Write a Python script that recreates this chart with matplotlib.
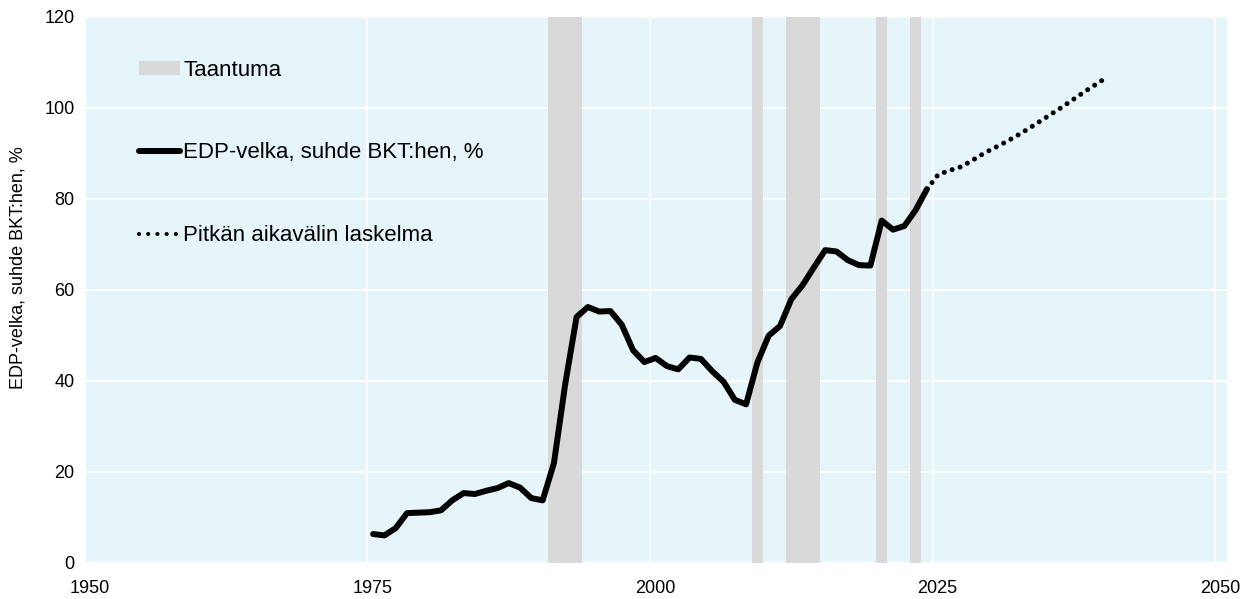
import matplotlib
matplotlib.use("Agg")
import matplotlib.pyplot as plt
import matplotlib.transforms as mtransforms
from matplotlib.lines import Line2D
from matplotlib.patches import Patch

plt.rcParams["font.family"] = ["Liberation Sans", "DejaVu Sans"]

# EDP debt, % of GDP (annual, plotted at mid-year)
years = list(range(1975, 2025))
debt = [6.3, 6.0, 7.6, 10.9, 11.0, 11.1, 11.5, 13.7, 15.3, 15.1,
        15.8, 16.4, 17.5, 16.5, 14.2, 13.7, 21.9, 39.3, 54.0, 56.2,
        55.2, 55.3, 52.3, 46.7, 44.1, 45.0, 43.2, 42.5, 45.1, 44.8,
        42.1, 39.8, 35.8, 34.8, 44.0, 49.9, 52.0, 57.9, 61.0, 64.9,
        68.7, 68.4, 66.5, 65.4, 65.3, 75.2, 73.2, 74.0, 77.5, 82.1]

# long-term projection
proj_years = list(range(2024, 2041))
proj_debt = [82.1, 85.3, 86.2, 87.0, 88.4, 89.9, 91.2, 92.5, 93.9,
             95.4, 97.0, 98.6, 100.2, 101.9, 103.6, 105.2, 106.8]

# recession years (shaded)
recession_years = [1991, 1992, 1993, 2009, 2012, 2013, 2014, 2020, 2023]

x_ticks = [1950, 1975, 2000, 2025, 2050]
y_ticks = [0, 20, 40, 60, 80, 100, 120]

BG = "#e6f5fa"
BAND = "#d9d9d9"

fig = plt.figure(figsize=(12.51, 5.99), dpi=100)
ax = fig.add_axes([0.0679, 0.0606, 0.9127, 0.9115])
ax.set_facecolor(BG)

for yr in recession_years:
    ax.axvspan(yr, yr + 1, color=BAND, lw=0, zorder=1)

ax.plot([y + 0.5 for y in proj_years], proj_debt, color="black", lw=3.6,
        linestyle=(0, (0.01, 1.65)), dash_capstyle="round", zorder=3)
ax.plot([y + 0.5 for y in years], debt, color="black", lw=4.3,
        solid_capstyle="round", solid_joinstyle="round", zorder=4)

ax.set_xlim(1950, 2051.03)
ax.set_ylim(0, 120)
ax.set_xticks(x_ticks)
ax.set_yticks(y_ticks)
ax.set_axisbelow(True)
ax.grid(True, color="white", lw=1.3)
for s in ax.spines.values():
    s.set_visible(False)
ax.tick_params(axis="both", length=0, labelsize=13, colors="black")
ax.tick_params(axis="x", pad=12.5)
ax.tick_params(axis="y", pad=7.5)

offset = mtransforms.ScaledTranslation(5 / 100, 0, fig.dpi_scale_trans)
for lab in ax.get_xticklabels():
    lab.set_transform(lab.get_transform() + offset)

fig.text(18 / 1251, 1 - 268 / 599, "EDP-velka, suhde BKT:hen, %",
         rotation=90, ha="center", va="center", fontsize=13)

handles = [
    Patch(facecolor=BAND, edgecolor="none"),
    Line2D([], [], color="black", lw=4.3, solid_capstyle="round"),
    Line2D([], [], color="black", lw=3.0, linestyle=(0, (0.01, 2.2)),
           dash_capstyle="round"),
]
labels = ["Taantuma", "EDP-velka, suhde BKT:hen, %", "Pitkän aikavälin laskelma"]
ax.legend(handles, labels, loc="upper left", bbox_to_anchor=(0.0473, 0.921),
          frameon=False, fontsize=16, labelspacing=2.77, handlelength=1.85,
          handleheight=0.55, handletextpad=0.15, borderpad=0, borderaxespad=0)

fig.savefig("out.png", dpi=100)
